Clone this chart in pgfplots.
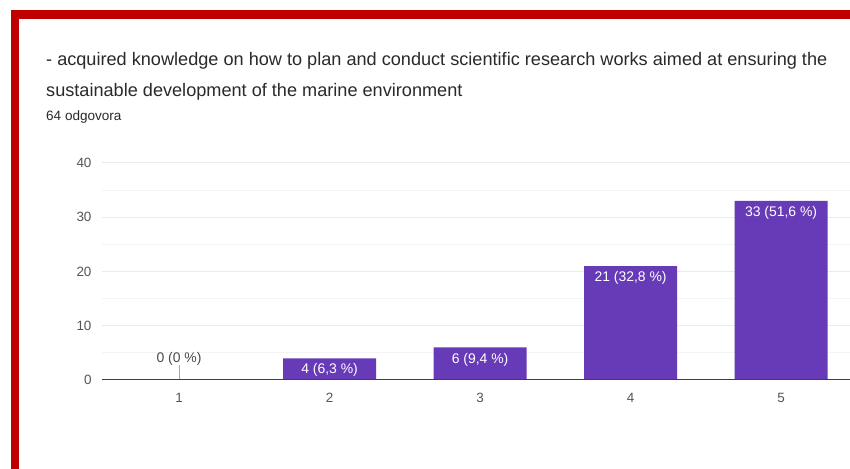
\documentclass[border=0pt]{standalone}
\usepackage{pgfplots}
\pgfplotsset{compat=1.18}
\usepackage{fontspec}
\setmainfont{Liberation Sans}
\definecolor{barpurple}{HTML}{673AB7}
\definecolor{frame}{HTML}{C00000}
\definecolor{titlec}{HTML}{2A2A2A}
\definecolor{tickc}{HTML}{555555}
\definecolor{gridmaj}{HTML}{EBEBEB}
\definecolor{gridmin}{HTML}{F4F4F4}
\begin{document}
\begin{tikzpicture}[x=1bp,y=1bp]
\path[use as bounding box, fill=white] (0,0) rectangle (850,469);
\fill[frame] (11,450) rectangle (850,459);
\fill[frame] (11,0) rectangle (19,459);
\node[anchor=base west, inner sep=0, text=titlec, font=\fontsize{18.2}{20}\selectfont] at (46,403) {- acquired knowledge on how to plan and conduct scientific research works aimed at ensuring the};
\node[anchor=base west, inner sep=0, text=titlec, font=\fontsize{18.2}{20}\selectfont] at (46,372) {sustainable development of the marine environment};
\node[anchor=base west, inner sep=0, text=titlec, font=\fontsize{13.6}{15}\selectfont] at (46,348) {64 odgovora};
\begin{axis}[
  at={(102bp,89bp)}, anchor=south west,
  scale only axis, width=748bp, height=217bp,
  xmin=0.488, xmax=5.458, ymin=0, ymax=40,
  axis line style={draw=none},
  tick style={draw=none},
  xtick={1,2,3,4,5},
  ytick={0,10,20,30,40},
  minor y tick num=1,
  ymajorgrids, yminorgrids,
  major grid style={gridmaj, line width=1bp},
  minor grid style={gridmin, line width=1bp},
  /pgf/number format/assume math mode=true,
  ticklabel style={font=\fontsize{13.5}{15}\selectfont, text=tickc},
  yticklabel style={anchor=east, xshift=-7bp},
  xticklabel style={anchor=center, yshift=-18bp},
  clip=false,
]
\addplot[ybar, fill=barpurple, draw=none, bar width=93bp,
  nodes near coords, point meta=explicit symbolic,
  nodes near coords style={anchor=north, text=white, font=\fontsize{14}{16}\selectfont, yshift=-2bp}]
  table[meta=label, col sep=comma] {
x,y,label
2,4,4 (6{,}3 \%)
3,6,6 (9{,}4 \%)
4,21,21 (32{,}8 \%)
5,33,33 (51{,}6 \%)
};
\addplot[draw=gray!70, line width=1bp, mark=none] coordinates {(1,0) (1,2.8)};
\addplot[draw=none, mark=none, nodes near coords, point meta=explicit symbolic,
  nodes near coords style={anchor=south, text=titlec!85, font=\fontsize{14}{16}\selectfont, yshift=-4bp}]
  coordinates {(1,2.8) [0 (0 \%)]};
\addplot[draw=darkgray, line width=1bp, mark=none] coordinates {(0.488,0) (5.458,0)};
\end{axis}
\end{tikzpicture}
\end{document}
